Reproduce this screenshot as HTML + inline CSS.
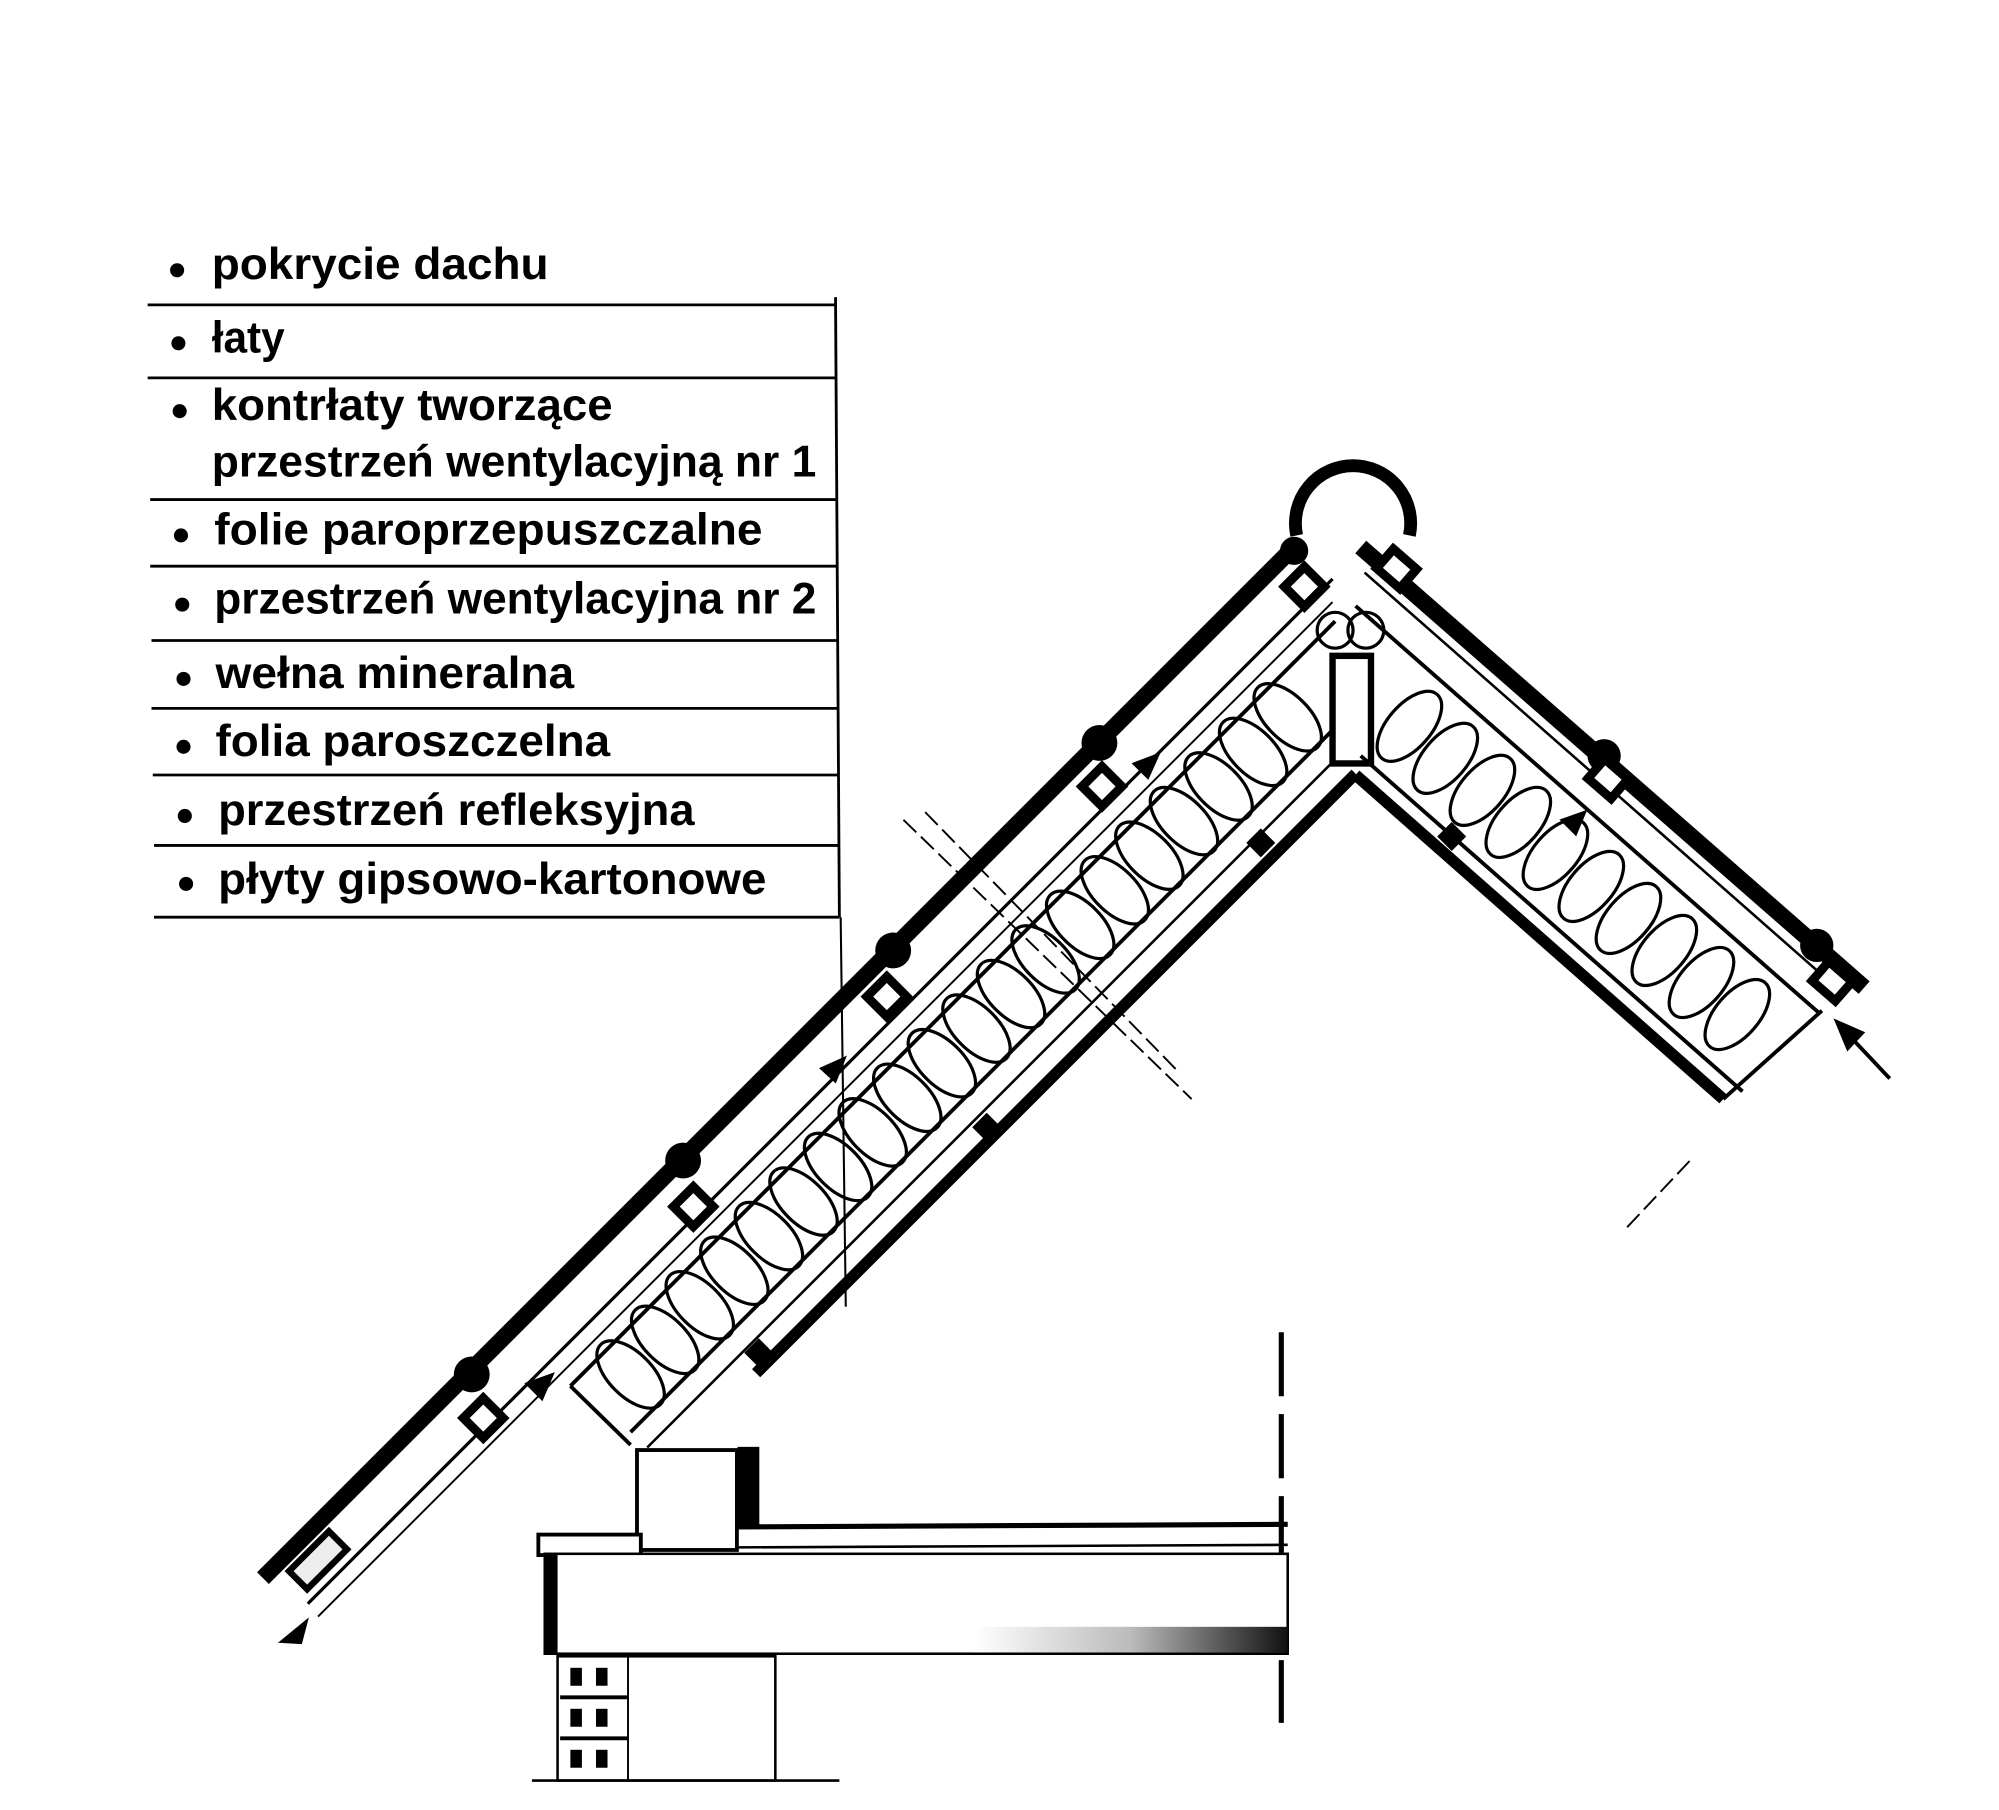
<!DOCTYPE html>
<html><head><meta charset="utf-8"><style>
html,body{margin:0;padding:0;background:#fff;}
svg{display:block;}
text{font-family:"Liberation Sans",sans-serif;fill:#000;}
</style></head><body>
<svg width="1999" height="1810" viewBox="0 0 1560 1413" xmlns="http://www.w3.org/2000/svg">
<rect width="1560" height="1413" fill="#fff"/>
<defs>
<linearGradient id="sh" x1="0" x2="1" y1="0" y2="0"><stop offset="0" stop-color="#fff"/><stop offset="0.5" stop-color="#bbb"/><stop offset="1" stop-color="#111"/></linearGradient>
</defs>
<g stroke="#000" stroke-width="2.2" fill="none">
<line x1="115" y1="238" x2="652" y2="238"/>
<line x1="115" y1="295" x2="652" y2="295"/>
<line x1="117" y1="390" x2="652" y2="390"/>
<line x1="117" y1="442" x2="653" y2="442"/>
<line x1="118" y1="500" x2="653" y2="500"/>
<line x1="118" y1="553" x2="654" y2="553"/>
<line x1="119" y1="605" x2="654" y2="605"/>
<line x1="120" y1="660" x2="655" y2="660"/>
<line x1="120" y1="716" x2="655" y2="716"/>
<line x1="652" y1="232" x2="655" y2="716"/>
<line x1="656" y1="716" x2="660" y2="1020" stroke-width="1.6"/>
</g>
<g fill="#000">
<circle cx="138" cy="211" r="5.5"/><circle cx="139" cy="268" r="5.5"/><circle cx="140" cy="321" r="5.5"/>
<circle cx="141" cy="418" r="5.5"/><circle cx="142" cy="472" r="5.5"/><circle cx="143" cy="530" r="5.5"/>
<circle cx="143" cy="583" r="5.5"/><circle cx="144" cy="637" r="5.5"/><circle cx="145" cy="690" r="5.5"/>
</g>
<g font-size="35" font-weight="bold">
<text x="165" y="218" textLength="263" lengthAdjust="spacingAndGlyphs">pokrycie dachu</text>
<text x="165" y="275" textLength="57" lengthAdjust="spacingAndGlyphs">łaty</text>
<text x="165" y="328" textLength="313" lengthAdjust="spacingAndGlyphs">kontrłaty tworzące</text>
<text x="165" y="372" textLength="472" lengthAdjust="spacingAndGlyphs">przestrzeń wentylacyjną nr 1</text>
<text x="167" y="425" textLength="428" lengthAdjust="spacingAndGlyphs">folie paroprzepuszczalne</text>
<text x="167" y="479" textLength="470" lengthAdjust="spacingAndGlyphs">przestrzeń wentylacyjna nr 2</text>
<text x="168" y="537" textLength="280" lengthAdjust="spacingAndGlyphs">wełna mineralna</text>
<text x="168" y="590" textLength="308" lengthAdjust="spacingAndGlyphs">folia paroszczelna</text>
<text x="170" y="644" textLength="372" lengthAdjust="spacingAndGlyphs">przestrzeń refleksyjna</text>
<text x="170" y="698" textLength="428" lengthAdjust="spacingAndGlyphs">płyty gipsowo-kartonowe</text>
</g>
<g stroke="#000" fill="none" stroke-linecap="butt">
<line x1="205" y1="1232" x2="1012" y2="425" stroke-width="13"/>
<line x1="240" y1="1252" x2="1040" y2="452" stroke-width="2.5"/>
<line x1="248" y1="1262" x2="1040" y2="470" stroke-width="1.5"/>
<line x1="445" y1="1082" x2="1042" y2="485" stroke-width="3"/>
<line x1="492" y1="1118" x2="1052" y2="558" stroke-width="3"/>
<line x1="445" y1="1082" x2="492" y2="1128" stroke-width="3"/>
<line x1="505" y1="1130" x2="1055" y2="580" stroke-width="2"/>
<line x1="590" y1="1072" x2="1058" y2="604" stroke-width="9"/>
</g>
<g fill="#000">
<circle cx="368" cy="1073" r="14"/><circle cx="533" cy="906" r="14"/><circle cx="697" cy="742" r="14"/><circle cx="858" cy="580" r="14"/><circle cx="1010" cy="430" r="11"/>
</g>
<g stroke="#000" stroke-width="7" fill="#fff">
<rect x="366" y="1096" width="22" height="22" transform="rotate(45 377 1107)"/>
<rect x="530" y="931" width="22" height="22" transform="rotate(45 541 942)"/>
<rect x="681" y="767" width="22" height="22" transform="rotate(45 692 778)"/>
<rect x="849" y="603" width="22" height="22" transform="rotate(45 860 614)"/>
<rect x="1007" y="447" width="22" height="22" transform="rotate(45 1018 458)"/>
<rect x="226" y="1208" width="44" height="20" transform="rotate(-45 248 1218)" fill="#eee" stroke-width="5"/>
</g>
<g stroke="#000" stroke-width="2.5" fill="none">
<ellipse cx="492" cy="1073" rx="33" ry="17" transform="rotate(45 492 1073)"/>
<ellipse cx="519" cy="1046" rx="33" ry="17" transform="rotate(45 519 1046)"/>
<ellipse cx="546" cy="1019" rx="33" ry="17" transform="rotate(45 546 1019)"/>
<ellipse cx="573" cy="992" rx="33" ry="17" transform="rotate(45 573 992)"/>
<ellipse cx="600" cy="965" rx="33" ry="17" transform="rotate(45 600 965)"/>
<ellipse cx="627" cy="938" rx="33" ry="17" transform="rotate(45 627 938)"/>
<ellipse cx="654" cy="911" rx="33" ry="17" transform="rotate(45 654 911)"/>
<ellipse cx="681" cy="884" rx="33" ry="17" transform="rotate(45 681 884)"/>
<ellipse cx="708" cy="857" rx="33" ry="17" transform="rotate(45 708 857)"/>
<ellipse cx="735" cy="830" rx="33" ry="17" transform="rotate(45 735 830)"/>
<ellipse cx="762" cy="803" rx="33" ry="17" transform="rotate(45 762 803)"/>
<ellipse cx="789" cy="776" rx="33" ry="17" transform="rotate(45 789 776)"/>
<ellipse cx="816" cy="749" rx="33" ry="17" transform="rotate(45 816 749)"/>
<ellipse cx="843" cy="722" rx="33" ry="17" transform="rotate(45 843 722)"/>
<ellipse cx="870" cy="695" rx="33" ry="17" transform="rotate(45 870 695)"/>
<ellipse cx="897" cy="668" rx="33" ry="17" transform="rotate(45 897 668)"/>
<ellipse cx="924" cy="641" rx="33" ry="17" transform="rotate(45 924 641)"/>
<ellipse cx="951" cy="614" rx="33" ry="17" transform="rotate(45 951 614)"/>
<ellipse cx="978" cy="587" rx="33" ry="17" transform="rotate(45 978 587)"/>
<ellipse cx="1005" cy="560" rx="33" ry="17" transform="rotate(45 1005 560)"/>
<circle cx="1042" cy="492" r="14"/><circle cx="1066" cy="492" r="14"/>
</g>
<rect x="1040" y="512" width="30" height="84" fill="#fff" stroke="#000" stroke-width="5"/>
<path d="M1012 418 A45 45 0 1 1 1100 418" stroke="#000" stroke-width="10" fill="none"/>
<g stroke="#000" fill="none">
<line x1="1062" y1="427" x2="1455" y2="771" stroke-width="13"/>
<line x1="1065" y1="447" x2="1430" y2="768" stroke-width="2"/>
<line x1="1058" y1="473" x2="1420" y2="791" stroke-width="3"/>
<line x1="1062" y1="590" x2="1360" y2="852" stroke-width="3"/>
<line x1="1058" y1="605" x2="1345" y2="858" stroke-width="9"/>
<line x1="1345" y1="858" x2="1422" y2="789" stroke-width="3"/>
</g>
<g fill="#000"><circle cx="1252" cy="590" r="13"/><circle cx="1418" cy="738" r="13"/><rect x="976" y="650" width="16" height="16" transform="rotate(45 984 658)"/><rect x="1125" y="645" width="16" height="16" transform="rotate(45 1133 653)"/><rect x="762" y="872" width="16" height="16" transform="rotate(45 770 880)"/><rect x="584" y="1048" width="16" height="16" transform="rotate(45 592 1056)"/></g>
<g stroke="#000" stroke-width="7" fill="#fff">
<rect x="1078" y="434" width="24" height="20" transform="rotate(41 1090 444)"/>
<rect x="1243" y="598" width="24" height="20" transform="rotate(41 1255 608)"/>
<rect x="1418" y="756" width="24" height="20" transform="rotate(41 1430 766)"/>
</g>
<g stroke="#000" stroke-width="2.5" fill="none">
<ellipse cx="1100" cy="567" rx="33" ry="17" transform="rotate(131 1100 567)"/>
<ellipse cx="1128" cy="592" rx="33" ry="17" transform="rotate(131 1128 592)"/>
<ellipse cx="1157" cy="617" rx="33" ry="17" transform="rotate(131 1157 617)"/>
<ellipse cx="1185" cy="642" rx="33" ry="17" transform="rotate(131 1185 642)"/>
<ellipse cx="1214" cy="667" rx="33" ry="17" transform="rotate(131 1214 667)"/>
<ellipse cx="1242" cy="692" rx="33" ry="17" transform="rotate(131 1242 692)"/>
<ellipse cx="1271" cy="717" rx="33" ry="17" transform="rotate(131 1271 717)"/>
<ellipse cx="1299" cy="742" rx="33" ry="17" transform="rotate(131 1299 742)"/>
<ellipse cx="1328" cy="767" rx="33" ry="17" transform="rotate(131 1328 767)"/>
<ellipse cx="1356" cy="792" rx="33" ry="17" transform="rotate(131 1356 792)"/>
</g>
<g fill="#000" stroke="#000" stroke-width="3">
<line x1="1475" y1="842" x2="1443" y2="808"/>
<polygon points="1432,796 1455,806 1442,820" stroke-width="1"/>
<polygon points="1218,640 1238,633 1230,652" stroke-width="1"/>
<polygon points="905,588 884,596 896,608" stroke-width="1"/>
<polygon points="432,1072 410,1080 423,1093" stroke-width="1"/>
<polygon points="218,1282 240,1264 235,1283" stroke-width="1"/>
<polygon points="660,825 640,834 652,845" stroke-width="1"/>
</g>
<g stroke="#000" stroke-width="1.5" stroke-dasharray="14 5" fill="none">
<line x1="705" y1="640" x2="930" y2="858"/>
<line x1="722" y1="634" x2="918" y2="835"/>
<line x1="700" y1="738" x2="760" y2="680"/>
<line x1="1270" y1="958" x2="1320" y2="905"/>
<line x1="1000" y1="1040" x2="1000" y2="1345" stroke-width="4" stroke-dasharray="50 14"/>
</g>
<g stroke="#000" fill="#fff">
<rect x="497" y="1132" width="78" height="78" stroke-width="3"/>
<rect x="576" y="1130" width="16" height="60" fill="#000" stroke-width="1"/>
<rect x="420" y="1198" width="80" height="16" stroke-width="3"/>
<rect x="425" y="1213" width="580" height="78" fill="#fff" stroke-width="2"/>
<rect x="760" y="1270" width="245" height="20" fill="url(#sh)" stroke="none"/>
<rect x="425" y="1213" width="10" height="78" fill="#000" stroke="none"/>
<line x1="575" y1="1192" x2="1005" y2="1190" stroke-width="4"/>
<line x1="575" y1="1208" x2="1005" y2="1206" stroke-width="2"/>
<rect x="435" y="1293" width="170" height="97" stroke-width="2"/>
<line x1="415" y1="1390" x2="655" y2="1390" stroke-width="2"/>
<line x1="437" y1="1325" x2="490" y2="1325" stroke-width="3"/>
<line x1="437" y1="1357" x2="490" y2="1357" stroke-width="3"/>
<line x1="490" y1="1293" x2="490" y2="1390" stroke-width="1.5"/>
</g>
<g fill="#000">
<rect x="445" y="1302" width="9" height="14"/><rect x="465" y="1302" width="9" height="14"/>
<rect x="445" y="1334" width="9" height="14"/><rect x="465" y="1334" width="9" height="14"/>
<rect x="445" y="1366" width="9" height="14"/><rect x="465" y="1366" width="9" height="14"/>
</g>
</svg>
</body></html>
